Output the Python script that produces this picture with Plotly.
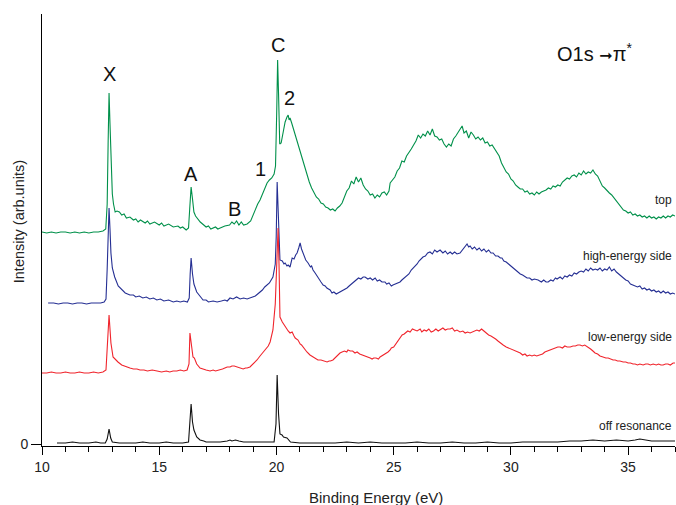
import plotly.graph_objects as go

# (binding energy eV, intensity arb. units)
top = [(10.0,212),(10.2,211),(10.4,212),(10.6,211),(10.8,212),(11.0,212),(11.2,211),(11.4,212),(11.6,211),(11.8,212),(12.0,211),(12.2,212),(12.4,212),(12.6,213),(12.72,215),(12.78,240),(12.82,300),(12.86,351),(12.90,320),(12.95,270),(13.0,250),(13.05,240),(13.12,232),(13.2,233),(13.3,232),(13.4,229),(13.5,230),(13.6,226),(13.75,227),(13.9,224),(14.0,225),(14.1,222),(14.2,224),(14.4,221),(14.5,223),(14.6,220),(14.8,222),(15.0,219),(15.1,221),(15.2,218),(15.4,220),(15.6,217),(15.8,218),(15.9,216),(16.0,217),(16.15,214),(16.25,216),(16.3,235),(16.36,257),(16.42,245),(16.48,232),(16.55,228),(16.65,225),(16.75,222),(16.9,219),(17.0,217),(17.1,218),(17.2,215),(17.4,217),(17.5,215),(17.6,216),(17.8,218),(18.0,219),(18.1,222),(18.2,220),(18.3,223),(18.4,219),(18.5,222),(18.6,219),(18.75,220),(18.9,223),(19.0,229),(19.1,236),(19.2,240),(19.3,244),(19.4,250),(19.5,257),(19.6,261),(19.7,264),(19.8,266),(19.9,270),(19.96,278),(20.01,330),(20.05,384),(20.09,350),(20.14,300),(20.2,301),(20.28,311),(20.37,322),(20.45,327),(20.5,329),(20.54,324),(20.58,326),(20.65,321),(20.75,313),(20.85,306),(20.95,297),(21.01,294),(21.1,287),(21.2,277),(21.3,271),(21.4,262),(21.5,256),(21.6,251),(21.7,247),(21.8,245),(21.9,241),(22.0,240),(22.1,237),(22.2,236),(22.3,234),(22.4,235),(22.5,233),(22.6,236),(22.7,238),(22.8,241),(22.9,247),(23.0,253),(23.1,256),(23.2,263),(23.3,260),(23.4,267),(23.5,262),(23.6,266),(23.7,259),(23.8,255),(23.9,253),(24.0,249),(24.1,250),(24.2,246),(24.3,249),(24.4,247),(24.5,251),(24.6,252),(24.7,249),(24.8,253),(24.85,261),(24.95,264),(25.05,267),(25.15,273),(25.25,276),(25.35,283),(25.45,282),(25.55,288),(25.65,291),(25.75,295),(25.85,299),(25.95,303),(26.05,309),(26.15,306),(26.25,310),(26.35,308),(26.45,313),(26.55,309),(26.65,315),(26.75,308),(26.85,307),(26.95,304),(27.05,305),(27.15,300),(27.25,297),(27.35,300),(27.45,298),(27.55,305),(27.65,308),(27.75,312),(27.85,316),(27.92,318),(28.0,311),(28.1,313),(28.2,306),(28.3,312),(28.4,309),(28.5,305),(28.6,307),(28.7,304),(28.8,306),(28.9,301),(29.0,302),(29.1,298),(29.2,299),(29.3,295),(29.4,292),(29.5,288),(29.6,281),(29.7,276),(29.8,272),(29.9,270),(30.0,265),(30.1,263),(30.2,259),(30.3,257),(30.4,255),(30.5,255),(30.6,252),(30.7,253),(30.8,250),(30.9,251),(31.0,249),(31.1,252),(31.2,250),(31.3,252),(31.4,253),(31.5,254),(31.6,256),(31.7,255),(31.8,258),(31.9,257),(32.0,259),(32.1,258),(32.2,262),(32.3,264),(32.4,266),(32.5,265),(32.6,268),(32.7,269),(32.8,267),(32.9,271),(33.0,269),(33.1,273),(33.2,270),(33.3,272),(33.4,271),(33.5,274),(33.6,270),(33.7,268),(33.8,263),(33.9,258),(34.0,256),(34.1,253),(34.2,251),(34.3,249),(34.4,246),(34.5,243),(34.6,239),(34.7,236),(34.8,234),(34.9,233),(35.0,231),(35.1,232),(35.2,229),(35.3,230),(35.4,228),(35.5,229),(35.6,227),(35.7,228),(35.8,226),(35.9,228),(36.0,226),(36.1,227),(36.2,225),(36.3,227),(36.4,226),(36.5,228),(36.6,226),(36.7,228),(36.8,227),(36.9,229),(37.0,228)]

high_energy = [(10.26,141),(10.5,141),(10.7,140),(10.9,141),(11.1,141),(11.3,140),(11.5,141),(11.7,141),(11.9,140),(12.1,141),(12.3,141),(12.5,141),(12.65,142),(12.73,145),(12.78,175),(12.82,215),(12.86,236),(12.9,215),(12.94,191),(13.0,176),(13.1,167),(13.25,158),(13.4,154),(13.55,151),(13.75,149),(13.9,149),(14.0,147),(14.15,148),(14.3,146),(14.45,147),(14.6,145),(14.75,146),(14.9,144),(15.05,145),(15.2,143),(15.4,144),(15.6,142),(15.75,143),(15.9,142),(16.05,143),(16.2,142),(16.28,146),(16.32,170),(16.36,186),(16.42,170),(16.48,160),(16.6,152),(16.75,147),(16.87,144),(17.0,144),(17.1,142),(17.3,143),(17.47,142),(17.65,143),(17.8,144),(17.9,143),(18.02,146),(18.15,145),(18.3,147),(18.45,145),(18.6,146),(18.75,145),(18.87,146),(19.0,147),(19.1,148),(19.2,150),(19.3,152),(19.4,154),(19.5,157),(19.6,159),(19.7,161),(19.75,163),(19.85,167),(19.95,180),(19.99,207),(20.03,262),(20.07,230),(20.12,195),(20.15,184),(20.25,183),(20.32,180),(20.37,181),(20.45,178),(20.5,179),(20.58,177),(20.67,186),(20.75,185),(20.82,189),(20.88,191),(20.95,196),(21.01,201),(21.07,195),(21.13,191),(21.2,188),(21.25,184),(21.35,181),(21.45,177),(21.5,178),(21.56,174),(21.65,171),(21.7,169),(21.77,167),(21.85,164),(21.9,162),(21.99,159),(22.08,158),(22.15,156),(22.22,155),(22.29,154),(22.37,151),(22.45,152),(22.55,150),(22.63,151),(22.72,152),(22.8,153),(22.9,155),(23.01,156),(23.1,158),(23.2,160),(23.3,162),(23.44,164),(23.5,166),(23.6,165),(23.7,167),(23.78,167),(23.9,165),(24.0,166),(24.1,164),(24.21,166),(24.3,163),(24.4,164),(24.5,162),(24.63,162),(24.7,160),(24.8,161),(24.9,158),(24.97,159),(25.05,160),(25.15,161),(25.27,162),(25.35,164),(25.45,166),(25.57,169),(25.65,170),(25.75,174),(25.83,176),(25.9,177),(26.0,180),(26.08,183),(26.13,184),(26.25,187),(26.35,188),(26.45,191),(26.55,192),(26.65,190),(26.75,194),(26.85,192),(26.98,194),(27.1,191),(27.2,193),(27.3,190),(27.41,192),(27.5,190),(27.6,192),(27.7,190),(27.83,191),(27.9,193),(27.96,195),(28.05,197),(28.13,200),(28.2,197),(28.26,198),(28.35,195),(28.45,197),(28.55,194),(28.65,196),(28.75,193),(28.85,195),(28.95,192),(29.05,194),(29.15,191),(29.24,191),(29.35,188),(29.45,188),(29.55,186),(29.62,186),(29.7,183),(29.8,182),(29.9,180),(29.97,179),(30.05,177),(30.15,175),(30.25,173),(30.31,172),(30.4,170),(30.5,169),(30.6,167),(30.69,166),(30.8,166),(30.9,164),(31.0,165),(31.16,164),(31.3,162),(31.4,164),(31.5,162),(31.59,162),(31.7,164),(31.8,163),(31.9,166),(31.97,165),(32.1,167),(32.2,165),(32.3,168),(32.4,167),(32.5,169),(32.6,168),(32.7,171),(32.8,170),(32.9,172),(33.0,173),(33.1,172),(33.2,175),(33.3,173),(33.4,176),(33.5,174),(33.6,175),(33.7,174),(33.8,176),(33.9,173),(34.0,175),(34.1,174),(34.2,177),(34.3,173),(34.4,175),(34.5,172),(34.6,170),(34.7,168),(34.8,166),(34.9,164),(35.0,163),(35.1,160),(35.2,159),(35.3,158),(35.4,157),(35.5,158),(35.6,155),(35.7,156),(35.8,154),(35.9,155),(36.0,153),(36.1,154),(36.2,152),(36.3,153),(36.4,151),(36.5,153),(36.6,151),(36.7,152),(36.8,150),(36.9,151),(37.0,150)]

low_energy = [(10.0,71),(10.2,71),(10.4,72),(10.6,71),(10.8,71),(11.0,72),(11.2,71),(11.4,71),(11.6,72),(11.8,71),(12.0,71),(12.2,72),(12.4,71),(12.6,72),(12.73,74),(12.78,100),(12.82,120),(12.86,129),(12.9,115),(12.94,101),(13.03,87),(13.15,84),(13.24,82),(13.4,79),(13.5,78),(13.6,77),(13.75,76),(13.9,75),(14.05,75),(14.18,74),(14.35,74),(14.5,73),(14.7,74),(14.91,73),(15.1,72),(15.3,73),(15.45,72),(15.59,73),(15.75,73),(15.9,74),(16.05,73),(16.19,74),(16.27,80),(16.31,111),(16.37,100),(16.44,87),(16.5,86),(16.53,84),(16.6,80),(16.74,76),(16.85,75),(17.0,74),(17.17,73),(17.3,74),(17.4,73),(17.59,74),(17.7,75),(17.8,76),(17.9,77),(18.02,77),(18.1,78),(18.2,78),(18.32,77),(18.45,76),(18.58,75),(18.68,76),(18.75,76),(18.87,77),(19.0,80),(19.1,82),(19.17,84),(19.3,88),(19.43,92),(19.55,96),(19.65,98),(19.73,102),(19.85,114),(19.95,140),(19.98,157),(20.03,195),(20.07,216),(20.11,180),(20.15,127),(20.25,122),(20.37,117),(20.45,114),(20.5,113),(20.58,111),(20.67,112),(20.75,108),(20.8,106),(20.92,104),(21.01,100),(21.07,99),(21.13,97),(21.2,95),(21.3,92),(21.43,89),(21.5,88),(21.6,86),(21.7,85),(21.77,84),(21.9,84),(22.0,83),(22.1,82),(22.16,82),(22.25,83),(22.3,83),(22.41,84),(22.5,86),(22.55,88),(22.65,90),(22.71,91),(22.8,92),(22.9,93),(23.0,92),(23.05,94),(23.15,93),(23.25,93),(23.35,91),(23.44,92),(23.55,90),(23.69,89),(23.8,88),(23.9,87),(24.0,86),(24.08,85),(24.15,86),(24.25,86),(24.35,85),(24.42,87),(24.5,88),(24.6,90),(24.7,91),(24.76,92),(24.85,94),(24.9,96),(25.0,97),(25.06,99),(25.15,102),(25.2,104),(25.3,107),(25.36,109),(25.45,110),(25.5,111),(25.6,113),(25.7,112),(25.8,115),(25.9,114),(26.0,113),(26.13,115),(26.2,112),(26.3,114),(26.4,113),(26.5,115),(26.6,112),(26.7,113),(26.8,115),(26.9,113),(26.98,114),(27.1,116),(27.2,114),(27.3,115),(27.41,115),(27.5,116),(27.6,113),(27.7,114),(27.83,112),(27.95,113),(28.05,111),(28.15,112),(28.26,111),(28.35,112),(28.45,113),(28.55,114),(28.65,113),(28.75,115),(28.85,113),(28.95,111),(29.05,109),(29.15,108),(29.24,107),(29.35,105),(29.45,103),(29.55,101),(29.67,99),(29.8,97),(29.9,96),(30.0,95),(30.09,94),(30.2,93),(30.3,92),(30.4,91),(30.5,89),(30.6,90),(30.69,88),(30.8,89),(30.9,88),(31.0,89),(31.1,88),(31.25,89),(31.35,90),(31.45,92),(31.55,93),(31.67,94),(31.8,95),(31.9,96),(32.0,97),(32.1,97),(32.2,96),(32.3,98),(32.4,97),(32.53,97),(32.65,98),(32.75,98),(32.85,99),(32.95,99),(33.05,98),(33.15,99),(33.29,97),(33.4,95),(33.5,93),(33.59,91),(33.7,90),(33.8,88),(33.93,87),(34.05,86),(34.15,86),(34.25,85),(34.36,84),(34.45,84),(34.55,83),(34.65,83),(34.79,82),(34.9,82),(35.0,81),(35.1,81),(35.21,80),(35.3,80),(35.4,79),(35.5,80),(35.64,79),(35.75,80),(35.85,80),(35.95,79),(36.07,80),(36.2,79),(36.3,80),(36.4,79),(36.49,79),(36.6,80),(36.7,80),(36.8,79),(36.92,81),(37.0,81)]

off_resonance = [(10.64,1),(11.0,1),(11.3,2),(11.6,1),(12.0,1),(12.3,2),(12.5,1),(12.7,1),(12.78,5),(12.86,15),(12.93,6),(13.0,2),(13.3,1),(13.6,1),(14.0,1),(14.3,2),(14.6,1),(15.0,1),(15.3,2),(15.6,1),(16.0,1),(16.25,2),(16.31,20),(16.36,40),(16.42,22),(16.48,14),(16.6,7),(16.74,4),(16.9,3),(17.0,2),(17.3,2),(17.6,2),(17.9,3),(18.02,4),(18.1,3),(18.25,4),(18.4,3),(18.6,2),(18.8,2),(19.1,2),(19.4,2),(19.7,2),(19.9,2),(19.98,20),(20.03,69),(20.09,30),(20.15,10),(20.24,9),(20.3,7),(20.45,6),(20.6,2),(21.0,1),(21.5,1),(22.0,1),(22.5,1),(23.0,2),(23.5,1),(24.0,2),(24.5,1),(25.0,1),(25.5,1),(26.0,2),(26.5,1),(27.0,1),(27.5,2),(28.0,1),(28.5,1),(29.0,2),(29.5,1),(30.0,1),(30.5,2),(31.0,2),(31.5,2),(32.0,2),(32.5,3),(33.0,3),(33.5,4),(34.0,3),(34.5,4),(35.0,3),(35.3,4),(35.5,5),(36.0,3),(36.5,3),(37.0,3)]

series_names = ["top", "high-energy side", "low-energy side", "off resonance"]
series_data = [top, high_energy, low_energy, off_resonance]
series_colors = ["#00904a", "#252f93", "#f0242c", "#111111"]
series_label_y = [244, 188, 107, 18]

peak_labels = ["X", "A", "B", "1", "C", "2"]
peak_label_x = [12.9, 16.36, 18.19, 19.3, 20.07, 20.54]
peak_label_y = [370, 270, 235, 275, 399, 346]

FONT = "Liberation Sans, Arial, Helvetica, sans-serif"

fig = go.Figure()
for name, data, color in zip(series_names, series_data, series_colors):
    fig.add_trace(go.Scatter(
        x=[p[0] for p in data], y=[p[1] for p in data],
        mode="lines", name=name, line=dict(color=color, width=1.1),
        showlegend=False, hoverinfo="skip"))

ann = []
for t, x, y in zip(peak_labels, peak_label_x, peak_label_y):
    ann.append(dict(x=x, y=y, text=t, showarrow=False, xanchor="center", yanchor="middle",
                    font=dict(family=FONT, size=20, color="#111")))
for t, y in zip(series_names, series_label_y):
    ann.append(dict(x=37.0, y=y, xshift=-1, text=t, showarrow=False, xanchor="right", yanchor="middle",
                    font=dict(family=FONT, size=12, color="#222")))
ann.append(dict(xref="paper", yref="paper", x=0.81, y=0.91, xanchor="left", yanchor="middle",
                text="O1s <span style='font-family:DejaVu Sans;font-size:16px'>➞</span>π<sup>*</sup>", showarrow=False,
                font=dict(family=FONT, size=20, color="#111")))
ann.append(dict(xref="paper", yref="paper", x=0.527, y=0, yshift=-51, xanchor="center", yanchor="middle",
                text="Binding Energy (eV)", showarrow=False,
                font=dict(family=FONT, size=15, color="#222")))
ann.append(dict(xref="paper", yref="paper", x=0, xshift=-23, y=0.518, xanchor="center", yanchor="middle",
                text="Intensity (arb.units)", textangle=-90, showarrow=False,
                font=dict(family=FONT, size=14.5, color="#222")))

fig.update_layout(
    width=676, height=505,
    margin=dict(l=42, r=1, t=14, b=59),
    paper_bgcolor="white", plot_bgcolor="white",
    annotations=ann,
    xaxis=dict(range=[10, 37], tick0=10, dtick=5, ticks="outside", ticklen=8, tickwidth=1,
               tickcolor="black", showline=True, linecolor="black", linewidth=1,
               showgrid=False, zeroline=False, automargin=False,
               tickfont=dict(family=FONT, size=14, color="#222"),
               minor=dict(dtick=1, ticks="outside", ticklen=5, tickcolor="black", tickwidth=1, showgrid=False)),
    yaxis=dict(range=[-2, 430], tickvals=[0], ticktext=["0"], ticks="outside", ticklen=10,
               tickwidth=1, tickcolor="black", showline=True, linecolor="black", linewidth=1,
               showgrid=False, zeroline=False, automargin=False,
               tickfont=dict(family=FONT, size=14, color="#222")),
)

fig.write_html("out.html", config={"displayModeBar": False},
               post_script="document.body.style.margin='0';document.body.style.padding='0';")
